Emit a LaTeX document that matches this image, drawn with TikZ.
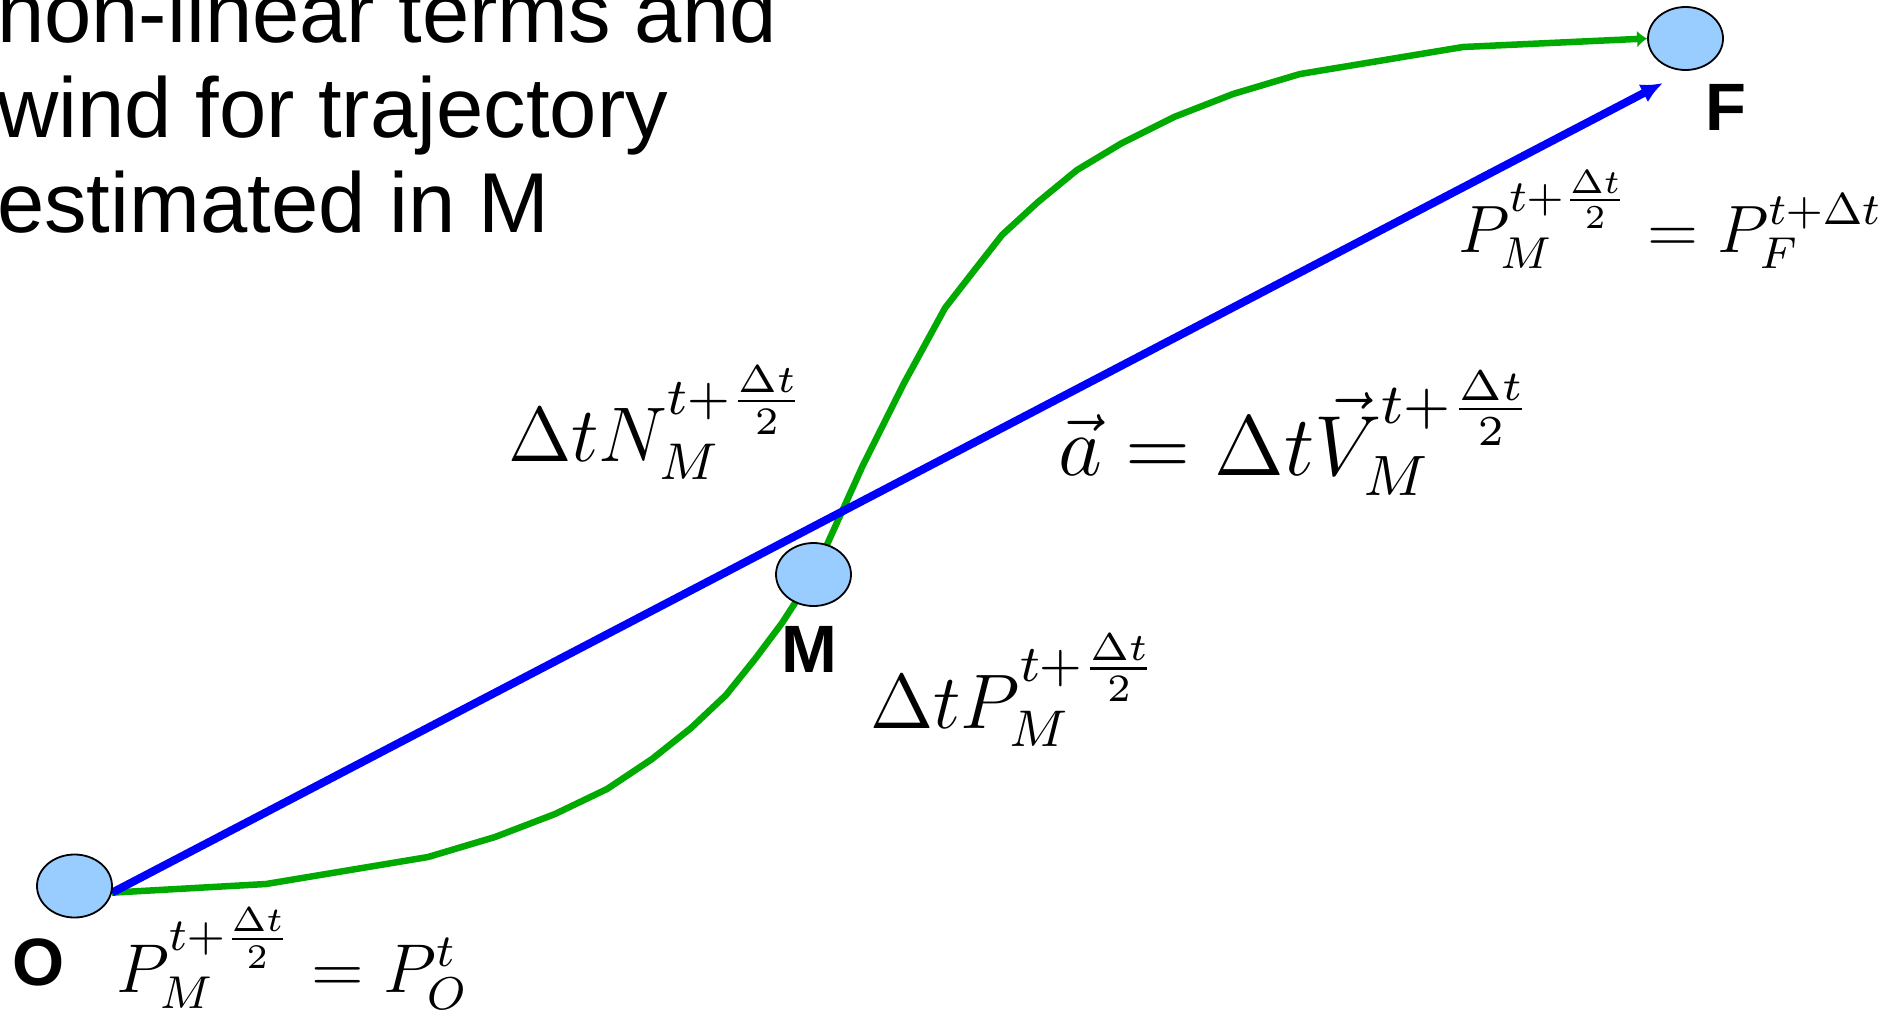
\documentclass[tikz,border=0pt]{standalone}
\usepackage{fontspec}
\newfontfamily\helv{Liberation Sans}
\usetikzlibrary{shapes.geometric,arrows.meta}
\definecolor{ballfill}{HTML}{99CCFF}
\definecolor{trajgreen}{HTML}{00AA00}
\definecolor{vecblue}{HTML}{0000FF}
\pgfdeclarelayer{bg}
\pgfsetlayers{bg,main}
\newcommand{\fiteq}[2]{\resizebox{#1pt}{!}{$#2$}}
\begin{document}
\begin{tikzpicture}[x=1pt,y=-1pt,
  ball/.style={ellipse, draw=black, line width=1.8pt, fill=ballfill,
    minimum width=75pt, minimum height=63pt, inner sep=0pt},
  ptlabel/.style={font=\helv\bfseries\fontsize{67}{67}\selectfont, inner sep=0pt},
  eq/.style={font=\fontsize{12}{14}\selectfont, inner sep=0pt, anchor=base west},
  traj/.style={draw=trajgreen, line width=6.5pt, line join=round,
    -{Latex[length=10pt,width=17pt]}},
  velvec/.style={draw=vecblue, line width=8pt, -{Latex[length=22pt,width=20pt]}}]

\useasboundingbox (0,0) rectangle (1895,1012);

\node[ball] (O) at (74.5,886) {};
\node[ball] (M) at (813.5,574.5) {};
\node[ball] (F) at (1685.5,38.5) {};
\coordinate (vtip) at (1663,83);

\begin{pgfonlayer}{bg}
\draw[traj] (O.-10) -- (266,884) -- (428,857) -- (495,837) -- (555,814)
  -- (607,789) -- (652,759) -- (691,728) -- (726,695) -- (755,659)
  -- (782,623) -- (M.center) -- (863,465) -- (903,385) -- (945,308)
  -- (973,272) -- (1002,235) -- (1038,202) -- (1077,170) -- (1122,143)
  -- (1174,117) -- (1233,94) -- (1300,74) -- (1463,47) -- (F.west);
\draw[velvec] (O.-10) -- (vtip);
\end{pgfonlayer}

\node[ptlabel] (lO) at (38.5,962) {O};
\node[ptlabel] (lM) at (809,649) {M};
\node[ptlabel] (lF) at (1725.5,107.5) {F};

\node[font=\helv\fontsize{85}{95}\selectfont, align=left, anchor=base west,
  inner sep=0pt] (title) at (-3,232)
  {non-linear terms and\\wind for trajectory\\estimated in M};

\node[eq] (eqO) at (116,992) {\fiteq{352}{P_M^{t+\frac{\Delta t}{2}} = P_O^t}};
\node[eq] (eqF) at (1458,252) {\fiteq{424}{P_M^{t+\frac{\Delta t}{2}} = P_F^{t+\Delta t}}};
\node[eq] (eqN) at (508,461) {\fiteq{298}{\Delta t N_M^{t+\frac{\Delta t}{2}}}};
\node[eq] (eqV) at (1058,475) {\fiteq{476}{\vec{a} = \Delta t \vec{V}_M^{t+\frac{\Delta t}{2}}}};
\node[eq] (eqP) at (870,728) {\fiteq{288}{\Delta t P_M^{t+\frac{\Delta t}{2}}}};
\end{tikzpicture}
\end{document}
